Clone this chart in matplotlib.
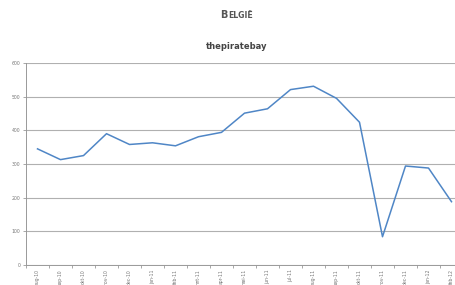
import numpy as np
import matplotlib
matplotlib.use('Agg')
from matplotlib import pyplot as plt

months = ['aug-10', 'sep-10', 'okt-10', 'nov-10', 'dec-10', 'jan-11', 'feb-11',
          'mrt-11', 'apr-11', 'mei-11', 'jun-11', 'jul-11', 'aug-11', 'sep-11',
          'okt-11', 'nov-11', 'dec-11', 'jan-12', 'feb-12']
visits = [345, 313, 325, 390, 358, 363, 354, 381, 394, 451, 464, 521, 531,
          495, 424, 84, 294, 288, 188]
yticks = [0, 100, 200, 300, 400, 500, 600]

fig = plt.figure(figsize=(4.56, 2.85), dpi=100)
ax = fig.add_axes([26/456, 1 - 265/285, 437/456, 202/285])

x = np.arange(len(months))
ax.plot(x, visits, color='#4f86c6', linewidth=1.1)

ax.set_xlim(-0.5, len(months) - 0.5)
ax.set_ylim(0, 600)
ax.set_yticks(yticks)
ax.set_yticklabels([str(v) for v in yticks], fontsize=3.3, color='#777777')
ax.set_xticks(x)
ax.set_xticklabels(months, rotation=90, fontsize=3.3, color='#777777')
ax.set_xticks(np.arange(-0.5, len(months), 1), minor=True)
ax.tick_params(axis='x', which='major', length=0, pad=3)
ax.tick_params(axis='x', which='minor', length=2, color='#999999', width=0.6)
ax.tick_params(axis='y', length=2, color='#999999', width=0.6, pad=2)

ax.grid(axis='y', color='#b0b0b0', linewidth=0.8)
ax.set_axisbelow(True)
for s in ['top', 'right']:
    ax.spines[s].set_visible(False)
for s in ['left', 'bottom']:
    ax.spines[s].set_color('#999999')
    ax.spines[s].set_linewidth(0.7)

# small caps title: big B + smaller rest
b = fig.text(220/456, 1 - 15/285, 'B', fontsize=7, fontweight='bold', color='#555555',
             ha='left', va='center')
fig.canvas.draw()
bb = b.get_window_extent()
fig.text(bb.x1 / 456 + 0.001, 1 - 15.6/285, 'ELGIË', fontsize=5.6, fontweight='bold',
         color='#555555', ha='left', va='center')
fig.text(237/456, 1 - 46/285, 'thepiratebay', fontsize=6, fontweight='bold',
         color='#444444', ha='center', va='center')

fig.savefig('out.png', dpi=100)
